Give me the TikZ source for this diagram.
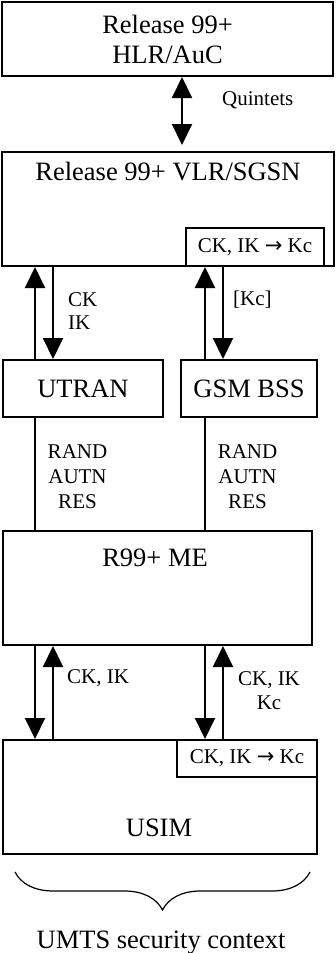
\documentclass[tikz,border=0pt]{standalone}
\usepackage{fontspec}
\setmainfont{Liberation Serif}
\newfontfamily\arrowfont{DejaVu Sans}
\usetikzlibrary{arrows.meta, decorations.pathreplacing}
\newcommand{\conv}{CK, IK {\arrowfont →} Kc}
\tikzset{
  box/.style={draw, line width=2pt, inner sep=0pt},   % plain rectangle
  bigtxt/.style={font=\fontsize{26.5}{30}\selectfont, align=center, inner sep=0pt},
  smalltxt/.style={font=\fontsize{21}{24}\selectfont, align=center, inner sep=0pt},
  wire/.style={line width=2pt},
  flow/.style={wire, -{Triangle[length=21pt,width=20pt]}},
  twoway/.style={wire, {Triangle[length=21pt,width=20pt]}-{Triangle[length=21pt,width=20pt]}},
}

\begin{document}
\begin{tikzpicture}[x=1pt, y=-1pt]
    \useasboundingbox (0,0) rectangle (335,953);

    % x positions of the vertical links
    \coordinate (xq) at (182,0);
    \coordinate (xa) at (35,0);
    \coordinate (xb) at (53,0);
    \coordinate (xc) at (205,0);
    \coordinate (xd) at (223,0);

    % Boxes
    \node[box, bigtxt, minimum width=331pt, minimum height=74pt] (hlr) at (167.5,39) {Release 99+\\HLR/AuC};
    \node[box, minimum width=332pt, minimum height=114pt] (vlr) at (168,209) {};
    \node[bigtxt] (vlrname) at (168,172) {Release 99+ VLR/SGSN};
    \node[box, smalltxt, minimum width=138pt, minimum height=38pt] (vlrconv) at (255,247) {\conv};
    \node[box, bigtxt, minimum width=160pt, minimum height=57pt] (utran) at (83,388.5) {UTRAN};
    \node[box, bigtxt, minimum width=136pt, minimum height=57pt] (bss) at (249,388.5) {GSM BSS};
    \node[box, minimum width=309pt, minimum height=114pt] (me) at (157.5,588) {};
    \node[bigtxt] (mename) at (155,558) {R99+ ME};
    \node[box, minimum width=314pt, minimum height=114pt] (usim) at (160,797) {};
    \node[box, smalltxt, minimum width=140pt, minimum height=37pt] (usimconv) at (247,758.5) {\conv};
    \node[bigtxt] (usimname) at (159,828) {USIM};

    % HLR <-> VLR
    \draw[twoway, shorten >=6pt] (hlr.south -| xq) -- (vlr.north -| xq);
    \node[smalltxt, anchor=west] (quin) at (222,100) {Quintets};

    % VLR <-> access networks
    \draw[flow] (utran.north -| xa) -- (vlr.south -| xa);
    \draw[flow] (vlr.south -| xb) -- (utran.north -| xb);
    \draw[flow] (bss.north -| xc) -- (vlr.south -| xc);
    \draw[flow] (vlr.south -| xd) -- (bss.north -| xd);
    \node[smalltxt, align=left, anchor=west, font=\fontsize{21}{23}\selectfont] (ckik) at (68,311) {CK\\IK};
    \node[smalltxt, anchor=west] (kc) at (233,300) {[Kc]};

    % access networks -- ME
    \draw[wire] (utran.south -| xa) -- (me.north -| xa);
    \draw[wire] (bss.south -| xc) -- (me.north -| xc);
    \node[smalltxt, font=\fontsize{21}{25}\selectfont] (chl) at (77.5,477) {RAND\\AUTN\\RES};
    \node[smalltxt, font=\fontsize{21}{25}\selectfont] (chr) at (247.5,477) {RAND\\AUTN\\RES};

    % ME <-> USIM
    \draw[flow] (me.south -| xa) -- (usim.north -| xa);
    \draw[flow] (usim.north -| xb) -- (me.south -| xb);
    \draw[flow] (me.south -| xc) -- (usim.north -| xc);
    \draw[flow] (usim.north -| xd) -- (me.south -| xd);
    \node[smalltxt, anchor=west] (keysl) at (67,678) {CK, IK};
    \node[smalltxt] (keysr) at (269,691) {CK, IK\\Kc};

    % Security context brace
    \coordinate (brr) at (310,872);
    \coordinate (brl) at (15,872);
    \draw[line width=1.2pt, decorate, decoration={brace, amplitude=38pt, aspect=0.5}] (brr) -- (brl);
    \node[bigtxt, anchor=base] (ctx) at (161,948) {UMTS security context};
\end{tikzpicture}
\end{document}
